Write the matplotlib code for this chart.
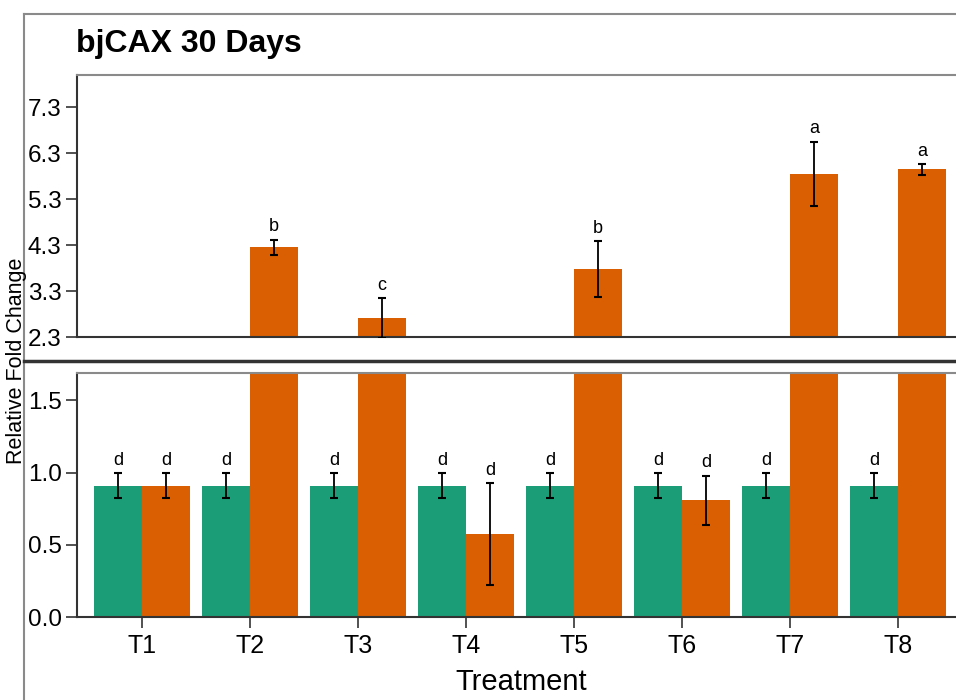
import matplotlib
matplotlib.use("Agg")
import matplotlib.pyplot as plt
from matplotlib.lines import Line2D
import numpy as np

treatments = ["T1", "T2", "T3", "T4", "T5", "T6", "T7", "T8"]
control_mean = [0.91, 0.91, 0.91, 0.91, 0.91, 0.91, 0.91, 0.91]
control_err = [0.085, 0.085, 0.085, 0.085, 0.085, 0.085, 0.085, 0.085]
control_letters = ["d", "d", "d", "d", "d", "d", "d", "d"]
treated_mean = [0.91, 4.25, 2.71, 0.575, 3.78, 0.81, 5.85, 5.95]
treated_err = [0.085, 0.17, 0.44, 0.353, 0.60, 0.17, 0.70, 0.12]
treated_letters = ["d", "b", "c", "d", "b", "d", "a", "a"]
top_ticks = [2.3, 3.3, 4.3, 5.3, 6.3, 7.3]
bottom_ticks = [0.0, 0.5, 1.0, 1.5]

GREEN = "#1b9e77"
ORANGE = "#d95f02"
NARROW = ["Liberation Sans Narrow", "Liberation Sans", "DejaVu Sans"]
REGULAR = ["Liberation Sans", "DejaVu Sans"]

plt.rcParams["font.family"] = NARROW

W, H = 956, 700
fig = plt.figure(figsize=(W / 100, H / 100), dpi=100)


def fx(px):
    return px / W


def fy(py):
    return 1 - py / H


left, right = 77, 962
ax_top = fig.add_axes([fx(left), fy(337), fx(right - left), fy(75) - fy(337)])
ax_bot = fig.add_axes([fx(left), fy(617), fx(right - left), fy(373) - fy(617)])

x = np.arange(1, len(treatments) + 1)
bw = 0.444

for ax in (ax_top, ax_bot):
    ax.bar(x - bw / 2, control_mean, width=bw, color=GREEN, zorder=2)
    ax.bar(x + bw / 2, treated_mean, width=bw, color=ORANGE, zorder=2)
    ax.errorbar(x - bw / 2, control_mean, yerr=control_err, fmt="none",
                ecolor="black", elinewidth=1.3, capsize=3, capthick=1.5, zorder=3)
    ax.errorbar(x + bw / 2, treated_mean, yerr=treated_err, fmt="none",
                ecolor="black", elinewidth=1.3, capsize=3, capthick=1.5, zorder=3)
    ax.set_xlim(1 - 65 / 108, 1 + (right - 142) / 108)
    ax.spines["right"].set_visible(False)
    ax.spines["top"].set_color("#8a8a8a")
    ax.spines["top"].set_linewidth(1.5)
    for s in ("left", "bottom"):
        ax.spines[s].set_color("#333333")
        ax.spines[s].set_linewidth(1.5)
    ax.tick_params(axis="y", direction="out", length=8, width=1.2,
                   color="#333333", labelsize=17.5, pad=3)

ax_top.set_ylim(2.3, 8.0)
ax_top.set_yticks(top_ticks)
ax_top.set_yticklabels([f"{t:.1f}" for t in top_ticks])
ax_top.set_xticks([])

ax_bot.set_ylim(0, 1.69)
ax_bot.set_yticks(bottom_ticks)
ax_bot.set_yticklabels([f"{t:.1f}" for t in bottom_ticks])
ax_bot.set_xticks(x)
ax_bot.set_xticklabels(treatments)
ax_bot.tick_params(axis="x", direction="out", length=8, width=1.2,
                   color="#333333", labelsize=18, pad=4)

# significance letters go in whichever panel shows the bar top
for xs, means, errs, letters in ((x - bw / 2, control_mean, control_err, control_letters),
                                 (x + bw / 2, treated_mean, treated_err, treated_letters)):
    for xi, m, e, lab in zip(xs, means, errs, letters):
        ax = ax_top if m > 2.3 else ax_bot
        ax.annotate(lab, (xi, m + e), xytext=(0, 3), textcoords="offset points",
                    ha="center", va="bottom", fontsize=13, zorder=4)

# outer frame and panel separator
fig.add_artist(Line2D([fx(24), fx(24)], [0, fy(14)], color="#8a8a8a", lw=1.5))
fig.add_artist(Line2D([fx(24), 1], [fy(14), fy(14)], color="#8a8a8a", lw=1.5))
fig.add_artist(Line2D([fx(24), 1], [fy(361), fy(361)], color="#333333", lw=2.5))

fig.text(fx(76), fy(52), "bjCAX 30 Days", fontsize=23, fontweight="bold",
         family=REGULAR, ha="left", va="baseline")
fig.text(fx(521), fy(690), "Treatment", fontsize=21, ha="center", va="baseline")
fig.text(fx(17), fy(361), "Relative Fold Change", fontsize=15.5, family=REGULAR,
         rotation=90, ha="center", va="center")

fig.savefig("out.png", dpi=100)
